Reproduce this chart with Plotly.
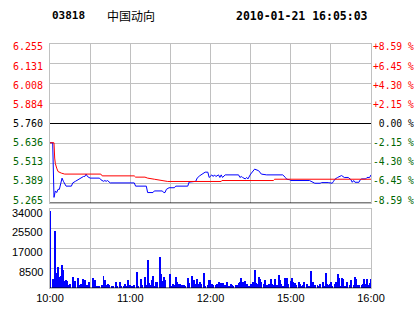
import plotly.graph_objects as go

W, H = 414, 314


def fx(x):
    return x / W


def fy(y):
    return 1 - y / H


# ---------------- data ----------------
stock_code = "03818"
stock_name = "中国动向"
timestamp = "2010-01-21 16:05:03"
prev_close = 5.76

price_ticks = [5.265, 5.389, 5.513, 5.636, 5.760, 5.884, 6.008, 6.131, 6.255]
price_labels = ["5.265", "5.389", "5.513", "5.636", "5.760", "5.884", "6.008", "6.131", "6.255"]
pct_labels = ["-8.59 %", "-6.45 %", "-4.30 %", "-2.15 %", "\u00a00.00 %",
              "+2.15 %", "+4.30 %", "+6.45 %", "+8.59 %"]

vol_ticks = [0, 8500, 17000, 25500, 34000]
vol_labels = ["", "8500", "17000", "25500", "34000"]

time_ticks = [0, 30, 60, 90, 120, 150, 180, 210, 240]
time_labels = ["10:00", "", "11:00", "", "12:00", "", "15:00", "", "16:00"]

# price (minute index from 10:00, trading minutes)
price_minutes = [0, 2, 3, 4, 5, 6, 7, 8, 9, 10, 11, 12, 16, 17, 19, 21, 22, 25, 26, 27,
                 28, 30, 37, 38, 40, 41, 42, 43, 45, 61, 63, 64, 72, 73, 77, 78, 84, 85,
                 86, 87, 89, 93, 94, 103, 104, 109, 110, 112, 116, 118, 119, 121, 122,
                 123, 124, 126, 127, 128, 129, 131, 141, 142, 143, 144, 146, 147, 148,
                 150, 153, 156, 158, 162, 172, 174, 176, 177, 179, 180, 194, 196, 198,
                 202, 203, 208, 211, 212, 213, 215, 218, 220, 223, 225, 226, 227, 228,
                 231, 232, 233, 236, 237, 239, 240]
price_values = [5.64, 5.64, 5.30, 5.34, 5.33, 5.35, 5.35, 5.38, 5.42, 5.40, 5.38, 5.37,
                5.37, 5.39, 5.40, 5.41, 5.42, 5.43, 5.43, 5.445, 5.43, 5.42, 5.42, 5.41,
                5.40, 5.405, 5.40, 5.405, 5.39, 5.39, 5.39, 5.37, 5.37, 5.33, 5.33, 5.34,
                5.34, 5.33, 5.33, 5.35, 5.36, 5.36, 5.37, 5.37, 5.395, 5.40, 5.42, 5.435,
                5.457, 5.457, 5.424, 5.44, 5.43, 5.44, 5.43, 5.44, 5.424, 5.44, 5.424,
                5.44, 5.44, 5.424, 5.43, 5.424, 5.415, 5.424, 5.415, 5.445, 5.476, 5.466,
                5.445, 5.44, 5.44, 5.44, 5.424, 5.413, 5.41, 5.405, 5.405, 5.395, 5.388,
                5.388, 5.392, 5.392, 5.388, 5.40, 5.413, 5.424, 5.436, 5.424, 5.424, 5.41,
                5.394, 5.405, 5.394, 5.394, 5.41, 5.415, 5.415, 5.424, 5.424, 5.44]

avg_minutes = [0, 3, 3.5, 4, 5, 6, 8.5, 11, 38, 39, 63, 64, 71, 73, 78, 83, 88, 128,
               128.5, 167, 168, 240]
avg_values = [5.64, 5.64, 5.545, 5.51, 5.482, 5.461, 5.451, 5.445, 5.445, 5.434, 5.434,
              5.426, 5.426, 5.42, 5.413, 5.405, 5.399, 5.399, 5.405, 5.405, 5.413, 5.413]

vol_minutes = [0, 2, 4, 5, 6, 7, 8, 9, 10, 11, 12, 13, 14, 15, 17, 18, 19, 21, 22, 23,
               24, 25, 26, 27, 28, 29, 32, 34, 35, 36, 37, 39, 40, 41, 42, 43, 44, 46,
               47, 49, 50, 52, 53, 55, 56, 57, 58, 60, 61, 63, 65, 66, 68, 69, 71, 72,
               73, 74, 75, 76, 77, 78, 79, 80, 82, 83, 84, 85, 86, 90, 91, 92, 93, 94,
               95, 96, 97, 98, 99, 100, 101, 103, 104, 106, 107, 108, 109, 110, 111,
               112, 113, 115, 116, 118, 119, 120, 121, 122, 124, 125, 126, 128, 129,
               130, 131, 132, 134, 135, 136, 137, 139, 140, 141, 142, 143, 144, 145,
               146, 147, 149, 150, 152, 153, 154, 155, 156, 157, 158, 160, 161, 162,
               164, 165, 166, 167, 168, 170, 171, 172, 173, 174, 176, 177, 178, 180,
               181, 182, 183, 184, 186, 187, 188, 189, 190, 192, 193, 194, 195, 197,
               198, 200, 201, 202, 204, 205, 206, 207, 208, 209, 210, 211, 213, 214,
               215, 216, 217, 218, 219, 220, 221, 222, 224, 225, 227, 228, 229, 230,
               231, 233, 234, 235, 236, 237, 238, 239, 240]
vol_values = [33150, 3870, 24540, 6310, 8900, 4880, 5170, 9900, 7750, 3010, 3300, 3010,
              1290, 1870, 4740, 1290, 3010, 4300, 1290, 1870, 1290, 3870, 3440, 1290,
              1290, 2440, 4300, 3440, 860, 860, 860, 1290, 5170, 3440, 1290, 1720, 1290,
              860, 860, 2580, 860, 2580, 860, 860, 1720, 860, 3440, 1290, 860, 1290,
              6890, 860, 3870, 1290, 4740, 1290, 12050, 2150, 1290, 3440, 5170, 860,
              2580, 2580, 13350, 6030, 3010, 4740, 3440, 6030, 860, 1720, 1290, 4740,
              2580, 1720, 1720, 1290, 1290, 1290, 860, 4300, 2010, 5170, 1720, 3440,
              1720, 3870, 1720, 2580, 1720, 6460, 860, 1290, 3440, 3440, 1720, 1290,
              1290, 1720, 2580, 2010, 2010, 1290, 1290, 2440, 860, 1720, 1290, 860,
              1290, 1290, 2010, 2440, 4300, 2580, 860, 3010, 1720, 860, 1720, 2580,
              7750, 2150, 1720, 4740, 3870, 2580, 1720, 3440, 1290, 1720, 3870, 1720,
              1290, 3870, 1290, 5600, 3440, 1720, 860, 4300, 4300, 1720, 3010, 4300,
              2580, 2150, 1290, 2580, 1720, 860, 1290, 2580, 1720, 860, 860, 7320,
              2580, 1290, 1290, 860, 1720, 2580, 860, 6460, 1720, 1290, 1720, 2580,
              860, 1720, 2580, 6030, 4300, 860, 4300, 3870, 860, 860, 2580, 1290, 3440,
              1290, 4740, 3870, 1290, 1290, 1290, 1720, 3870, 1720, 3870, 1290, 2150,
              3870]

# ---------------- style ----------------
RED = "#FF0000"
GREEN = "#006600"
BLACK = "#000000"
BLUE = "#0000FF"
GRID = "#C0C0C0"
MONO = "DejaVu Sans Mono"
SANS = "Liberation Sans, Arial"


def colour_for(v):
    if v > prev_close + 1e-9:
        return RED
    if v < prev_close - 1e-9:
        return GREEN
    return BLACK


fig = go.Figure()
fig.add_trace(go.Scatter(x=price_minutes, y=price_values, mode="lines",
                         line=dict(color=BLUE, width=1), xaxis="x", yaxis="y",
                         hoverinfo="skip", showlegend=False))
fig.add_trace(go.Scatter(x=avg_minutes, y=avg_values, mode="lines",
                         line=dict(color=RED, width=1), xaxis="x", yaxis="y",
                         hoverinfo="skip", showlegend=False))
fig.add_trace(go.Bar(x=vol_minutes, y=vol_values, width=0.75,
                     marker=dict(color=BLUE, line=dict(width=0)),
                     xaxis="x2", yaxis="y2", hoverinfo="skip", showlegend=False))

xdom = [fx(50), fx(371)]
axis_common = dict(showgrid=True, gridcolor=GRID, gridwidth=1, zeroline=False,
                   showline=True, linecolor=GRID, linewidth=1, mirror=True, ticks="",
                   fixedrange=True, automargin=False)

# price-axis labels: the original packs them slightly tighter than the grid,
# so each label gets a small vertical nudge relative to its grid line
label_annotations = []
n = len(price_ticks)
for i, (v, t, p) in enumerate(zip(price_ticks, price_labels, pct_labels)):
    k = n - 1 - i  # index from the top
    shift = -(3 - 0.75 * k)
    c = colour_for(v)
    label_annotations.append(dict(
        text=t, xref="paper", yref="y", x=fx(44), y=v, yshift=shift,
        xanchor="right", yanchor="middle", showarrow=False, borderpad=0,
        font=dict(family=MONO, size=10, color=c)))
    label_annotations.append(dict(
        text=p, xref="paper", yref="y", x=fx(371.5), y=v, yshift=shift,
        xanchor="left", yanchor="middle", showarrow=False, borderpad=0,
        font=dict(family=MONO, size=9.7, color=c)))

# volume axis labels, set slightly below their grid lines as in the original
vol_annotations = [
    dict(text=t, xref="paper", yref="y2", x=fx(44), y=v, yshift=-3.5,
         xanchor="right", yanchor="middle", showarrow=False, borderpad=0,
         font=dict(family=SANS, size=11, color=BLACK))
    for v, t in zip(vol_ticks, vol_labels) if t
]

fig.update_layout(
    width=W, height=H,
    margin=dict(l=0, r=0, t=0, b=0, autoexpand=False),
    paper_bgcolor="white", plot_bgcolor="white",
    showlegend=False,
    bargap=0,
    xaxis=dict(domain=xdom, range=[0, 240], anchor="y", tickmode="array",
               tickvals=time_ticks, showticklabels=False, **axis_common),
    yaxis=dict(domain=[fy(203), fy(44)], range=[5.265, 6.255], anchor="x",
               tickmode="array", tickvals=price_ticks, showticklabels=False,
               **axis_common),
    xaxis2=dict(domain=xdom, range=[0, 240], anchor="y2", tickmode="array",
                tickvals=time_ticks, ticktext=time_labels,
                tickfont=dict(family=SANS, size=11, color=BLACK), **axis_common),
    yaxis2=dict(domain=[fy(288), fy(209)], range=[0, 34000], anchor="x2",
                tickmode="array", tickvals=vol_ticks, showticklabels=False,
                **axis_common),
    shapes=[
        dict(type="line", xref="x", yref="y", x0=0, x1=240, y0=prev_close, y1=prev_close,
             line=dict(color=BLACK, width=1)),
        dict(type="line", xref="x", yref="y", x0=0, x1=240, y0=5.265, y1=5.265,
             line=dict(color=BLACK, width=1)),
        dict(type="line", xref="x2", yref="y2", x0=0, x1=240, y0=0, y1=0,
             line=dict(color=BLACK, width=1)),
    ],
    annotations=[
        dict(text="<b>%s</b>" % stock_code, xref="paper", yref="paper", x=fx(50),
             y=fy(16), xanchor="left", yanchor="middle", showarrow=False,
             font=dict(family=MONO, size=11, color=BLACK)),
        dict(text=stock_name, xref="paper", yref="paper", x=fx(105), y=fy(15.5),
             xanchor="left", yanchor="middle", showarrow=False,
             font=dict(family="Noto Sans CJK SC", size=12, color=BLACK)),
        dict(text="<b>%s</b>" % timestamp, xref="paper", yref="paper", x=fx(370),
             y=fy(16), xanchor="right", yanchor="middle", showarrow=False,
             font=dict(family=MONO, size=11.5, color=BLACK)),
    ] + label_annotations + vol_annotations,
)

fig.write_html("out.html")
